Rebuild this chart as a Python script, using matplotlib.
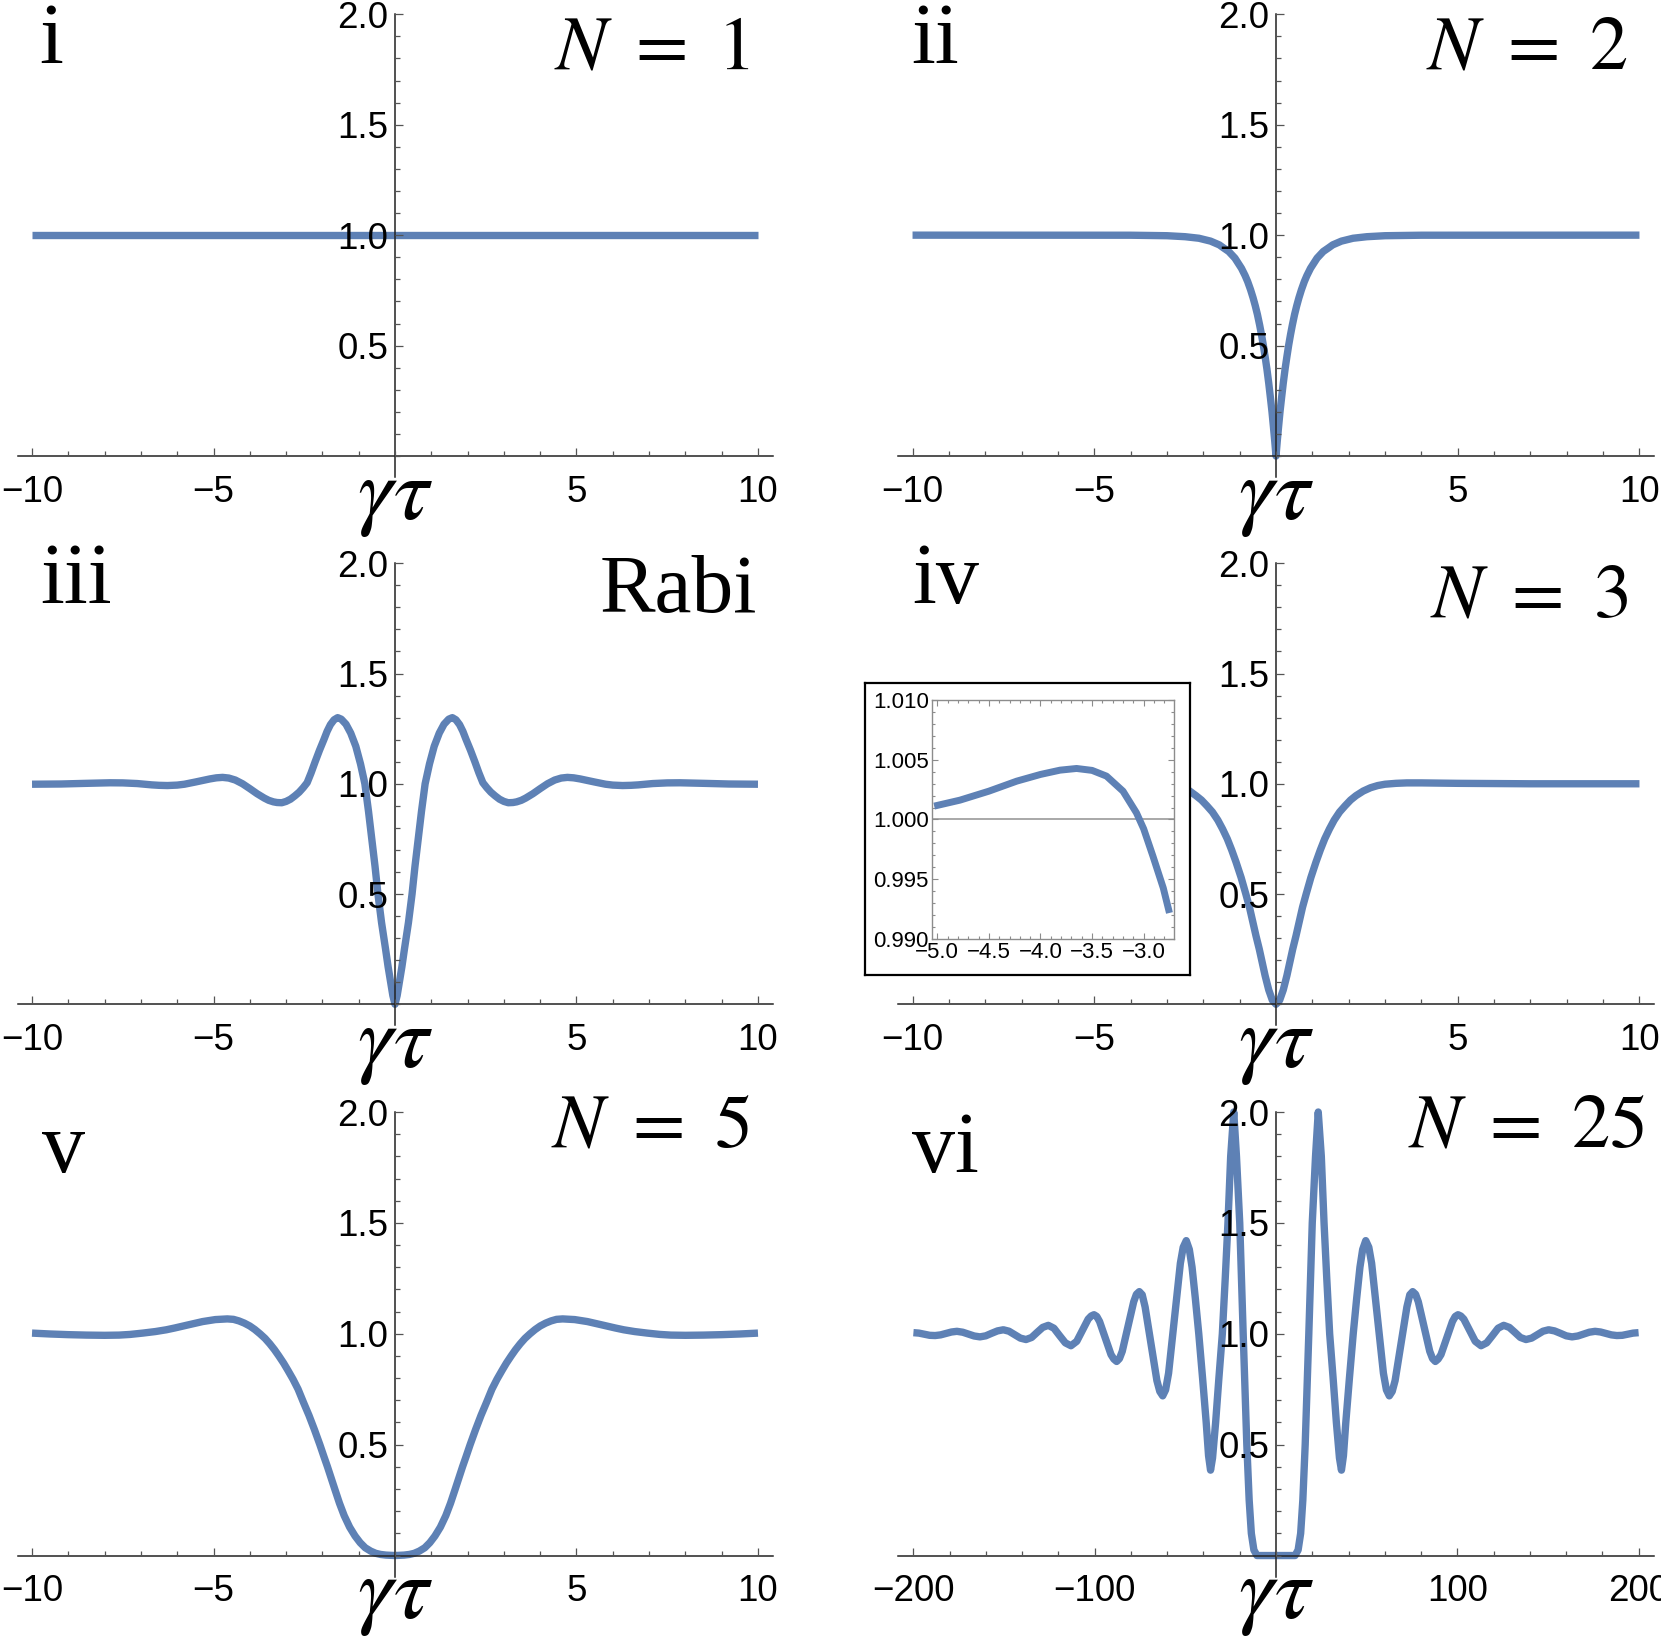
import numpy as np
import matplotlib
matplotlib.use("Agg")
import matplotlib.pyplot as plt
from matplotlib.ticker import MultipleLocator

W, H = 1661, 1636

# ---- values ----
# panel i, N = 1
x_n1 = [-10.0, 10.0]
y_n1 = [1.0, 1.0]

# panel ii, N = 2
x_n2 = [-10, -4, -3, -2.5, -2.12, -1.8, -1.56, -1.45, -1.3, -1.13, -0.95, -0.85, -0.78, -0.7, -0.63, -0.57, -0.51, -0.45, -0.4,
        -0.35, -0.3, -0.25, -0.2, -0.15, -0.11, -0.07, -0.035, 0,
        0.035, 0.07, 0.11, 0.15, 0.2, 0.25, 0.3, 0.35, 0.4, 0.45, 0.51, 0.57, 0.63, 0.7, 0.78, 0.85, 0.95, 1.13, 1.3, 1.45,
        1.56, 1.8, 2.12, 2.5, 3, 4, 10]
y_n2 = [1.0, 0.9997, 0.9975, 0.993, 0.986, 0.973, 0.956, 0.943, 0.926, 0.896, 0.85, 0.817, 0.79, 0.753, 0.716, 0.68, 0.64, 0.593, 0.55,
        0.503, 0.45, 0.394, 0.33, 0.259, 0.2, 0.131, 0.068, 0.0,
        0.068, 0.131, 0.2, 0.259, 0.33, 0.394, 0.45, 0.503, 0.55, 0.593, 0.64, 0.68, 0.716, 0.753, 0.79, 0.817, 0.85, 0.896, 0.926, 0.943,
        0.956, 0.973, 0.986, 0.993, 0.9975, 0.9997, 1.0]

# panel iii, Rabi
x_rabi = [-10.0, -9.2, -8.5, -7.85, -7.5, -7.1, -6.7, -6.5, -6.27, -6.0, -5.8, -5.5, -5.3, -5.1, -4.92, -4.75, -4.58, -4.4, -4.2,
          -4.0, -3.8, -3.6, -3.48, -3.35, -3.25, -3.12, -3.0, -2.88, -2.76, -2.64, -2.53, -2.42, -2.31, -2.2, -2.08, -1.96, -1.87,
          -1.78, -1.68, -1.58, -1.48, -1.35, -1.22, -1.08, -0.95, -0.83, -0.73, -0.64, -0.55, -0.47, -0.37, -0.26, -0.19, -0.12,
          -0.06, 0.0,
          0.06, 0.12, 0.19, 0.26, 0.37, 0.47, 0.55, 0.64, 0.73, 0.83, 0.95, 1.08, 1.22, 1.35, 1.48, 1.58, 1.68, 1.78,
          1.87, 1.96, 2.08, 2.2, 2.31, 2.42, 2.53, 2.64, 2.76, 2.88, 3.0, 3.12, 3.25, 3.35, 3.48, 3.6, 3.8, 4.0,
          4.2, 4.4, 4.58, 4.75, 4.92, 5.1, 5.3, 5.5, 5.8, 6.0, 6.27, 6.5, 6.7, 7.1, 7.5, 7.85, 8.5, 9.2, 10.0]
y_rabi = [0.998, 0.999, 1.002, 1.0045, 1.004, 1.001, 0.995, 0.993, 0.992, 0.994, 0.998, 1.008, 1.015, 1.022, 1.027, 1.029, 1.026, 1.017, 1.0,
          0.978, 0.955, 0.935, 0.925, 0.918, 0.915, 0.914, 0.92, 0.93, 0.945, 0.962, 0.982, 1.005, 1.05, 1.1, 1.152, 1.2, 1.238,
          1.268, 1.29, 1.30, 1.293, 1.27, 1.23, 1.17, 1.09, 1.0, 0.875, 0.75, 0.625, 0.5, 0.37, 0.25, 0.17, 0.1,
          0.04, 0.0,
          0.04, 0.1, 0.17, 0.25, 0.37, 0.5, 0.625, 0.75, 0.875, 1.0, 1.09, 1.17, 1.23, 1.27, 1.293, 1.30, 1.29, 1.268,
          1.238, 1.2, 1.152, 1.1, 1.05, 1.005, 0.982, 0.962, 0.945, 0.93, 0.92, 0.914, 0.915, 0.918, 0.925, 0.935, 0.955, 0.978,
          1.0, 1.017, 1.026, 1.029, 1.027, 1.022, 1.015, 1.008, 0.998, 0.994, 0.992, 0.993, 0.995, 1.001, 1.004, 1.0045, 1.002, 0.999, 0.998]

# panel iv, N = 3 (the inset shows the same curve)
x_n3 = [-10, -8, -6.5, -5.5, -5.03, -4.78, -4.5, -4.23, -4.0, -3.81, -3.65, -3.5, -3.36, -3.2, -3.07, -3.0, -2.91, -2.81, -2.75,
        -2.6, -2.4, -2.2, -2.05, -1.9, -1.75, -1.6, -1.47, -1.34, -1.22, -1.1, -0.96, -0.83, -0.73, -0.64, -0.55, -0.46, -0.38,
        -0.3, -0.2, -0.1, 0,
        0.1, 0.2, 0.3, 0.38, 0.46, 0.55, 0.64, 0.73, 0.83, 0.96, 1.1, 1.22, 1.34, 1.47, 1.6, 1.75, 1.9, 2.05, 2.2, 2.4,
        2.6, 2.8, 3.0, 3.3, 3.6, 4.0, 4.5, 5.0, 6.0, 7.0, 10]
y_n3 = [1.0, 1.0, 1.0003, 1.0007, 1.00112, 1.00162, 1.00237, 1.00321, 1.00377, 1.00413, 1.00427, 1.00411, 1.00363, 1.00237, 1.00056, 0.99922, 0.99693, 0.99427, 0.99218,
        0.985, 0.97, 0.946, 0.926, 0.9, 0.872, 0.835, 0.795, 0.75, 0.7, 0.645, 0.575, 0.5, 0.44, 0.375, 0.31, 0.25, 0.19,
        0.13, 0.065, 0.018, 0.0,
        0.018, 0.065, 0.13, 0.19, 0.25, 0.31, 0.375, 0.44, 0.5, 0.575, 0.645, 0.7, 0.75, 0.795, 0.835, 0.872, 0.9, 0.926, 0.946, 0.967,
        0.982, 0.992, 0.998, 1.002, 1.004, 1.004, 1.003, 1.002, 1.001, 1.0, 1.0]

# panel v, N = 5
x_n5 = [-10, -9.5, -9, -8.5, -8, -7.6, -7.3, -6.95, -6.6, -6.3, -6.07, -5.7, -5.3, -4.95, -4.62, -4.45, -4.3, -4.15, -4.0, -3.86,
        -3.72, -3.58, -3.45, -3.32, -3.2, -3.07, -2.95, -2.81, -2.67, -2.52, -2.37, -2.22, -2.07, -1.96, -1.86, -1.76, -1.66,
        -1.53, -1.4, -1.25, -1.1, -0.96, -0.82, -0.67, -0.53, -0.4, -0.25, 0,
        0.25, 0.4, 0.53, 0.67, 0.82, 0.96, 1.1, 1.25, 1.4, 1.53, 1.66, 1.76, 1.86, 1.96, 2.07, 2.22, 2.37, 2.52, 2.67,
        2.81, 2.95, 3.07, 3.2, 3.32, 3.45, 3.58, 3.72, 3.86, 4.0, 4.15, 4.3, 4.45, 4.62, 4.95, 5.3, 5.7, 6.07, 6.3, 6.6,
        6.95, 7.3, 7.6, 8, 8.5, 9, 9.5, 10]
y_n5 = [1.003, 0.999, 0.996, 0.994, 0.993, 0.994, 0.997, 1.003, 1.01, 1.018, 1.026, 1.04, 1.055, 1.064, 1.067, 1.065, 1.058, 1.048, 1.035, 1.019,
        1.0, 0.979, 0.955, 0.928, 0.9, 0.868, 0.835, 0.795, 0.75, 0.69, 0.632, 0.568, 0.5, 0.447, 0.4, 0.35, 0.3,
        0.236, 0.18, 0.128, 0.088, 0.058, 0.035, 0.02, 0.01, 0.005, 0.002, 0.0,
        0.002, 0.005, 0.01, 0.02, 0.035, 0.058, 0.088, 0.128, 0.18, 0.236, 0.3, 0.35, 0.4, 0.447, 0.5, 0.568, 0.632, 0.69, 0.75,
        0.795, 0.835, 0.868, 0.9, 0.928, 0.955, 0.979, 1.0, 1.019, 1.035, 1.048, 1.058, 1.065, 1.067, 1.064, 1.055, 1.04, 1.026, 1.018, 1.01,
        1.003, 0.997, 0.994, 0.993, 0.994, 0.996, 0.999, 1.003]

# panel vi, N = 25
x_n25 = [-200, -197, -194, -191, -188, -185, -182, -179, -176, -172.8, -169.6, -166.5, -163.3, -160.1, -156.9, -153.6,
         -150.4, -147.3, -144.2, -141.0, -137.9, -134.8, -131.8, -128.7, -125.6,
         -122.5, -119.4, -116.2, -113.1, -109.9, -106.75, -103.6, -101.95, -100.4, -98.85, -97.3, -94.15, -91.0, -89.45, -87.9,
         -86.35, -84.8, -81.65, -78.5, -77.0, -75.4, -73.8, -72.2, -68.95, -65.7, -64.1, -62.5, -60.9, -59.25, -56.0, -52.75,
         -51.2, -49.5, -47.8, -46.3, -44.5, -42.6, -40.5, -38.5, -37.2, -36.1, -35.0, -33.3, -31.5, -29.6, -28.0, -26.5,
         -25.0, -23.3, -21.8, -20.0, -18.1, -16.1, -14.8, -13.6, -12.2, -10.5,
         10.5, 12.2, 13.6, 14.8, 16.1, 18.1, 20.0, 21.8, 23.3, 25.0, 26.5, 28.0, 29.6, 31.5, 33.3, 35.0, 36.1, 37.2, 38.5,
         40.5, 42.6, 44.5, 46.3, 47.8, 49.5, 51.2, 52.75, 56.0, 59.25, 60.9, 62.5, 64.1, 65.7, 68.95, 72.2, 73.8, 75.4, 77.0,
         78.5, 81.65, 84.8, 86.35, 87.9, 89.45, 91.0, 94.15, 97.3, 98.85, 100.4, 101.95, 103.6, 106.75, 109.9, 113.1, 116.2,
         119.4, 122.5, 125.6, 128.7, 131.8, 134.8, 137.9, 141.0, 144.2, 147.3, 150.4, 153.6, 156.9, 160.1, 163.3, 166.5,
         169.6, 172.8, 176, 179, 182, 185, 188, 191, 194, 197, 200]
y_n25 = [1.005, 1.003, 0.998, 0.993, 0.992, 0.995, 1.0015, 1.008, 1.011, 1.007, 0.9985, 0.990, 0.986, 0.9907, 1.002, 1.013,
         1.018, 1.0116, 0.996, 0.9804, 0.974, 0.9833, 1.006, 1.0287, 1.038,
         1.025, 0.992, 0.959, 0.946, 0.966, 1.016, 1.066, 1.08, 1.086, 1.078, 1.055, 0.98, 0.906, 0.886, 0.875,
         0.888, 0.921, 1.032, 1.144, 1.178, 1.19, 1.176, 1.121, 0.955, 0.789, 0.74, 0.72, 0.747, 0.822, 1.07, 1.318,
         1.39, 1.42, 1.38, 1.3, 1.16, 1.0, 0.8, 0.6, 0.45, 0.385, 0.44, 0.6, 0.8, 1.0, 1.25, 1.5,
         1.8, 2.0, 1.8, 1.5, 1.0, 0.5, 0.25, 0.1, 0.025, 0.0,
         0.0, 0.025, 0.1, 0.25, 0.5, 1.0, 1.5, 1.8, 2.0, 1.8, 1.5, 1.25, 1.0, 0.8, 0.6, 0.44, 0.385, 0.45, 0.6,
         0.8, 1.0, 1.16, 1.3, 1.38, 1.42, 1.39, 1.318, 1.07, 0.822, 0.747, 0.72, 0.74, 0.789, 0.955, 1.121, 1.176, 1.19, 1.178,
         1.144, 1.032, 0.921, 0.888, 0.875, 0.886, 0.906, 0.98, 1.055, 1.078, 1.086, 1.08, 1.066, 1.016, 0.966, 0.946, 0.959,
         0.992, 1.025, 1.038, 1.0287, 1.006, 0.9833, 0.974, 0.9804, 0.996, 1.0116, 1.018, 1.013, 1.002, 0.9907, 0.986, 0.990,
         0.9985, 1.007, 1.011, 1.008, 1.0015, 0.995, 0.992, 0.993, 0.998, 1.003, 1.005]

panel_tags = ["i", "ii", "iii", "iv", "v", "vi"]
panel_titles = [r"$N\,\,=\,\,1$", r"$N\,\,=\,\,2$", "Rabi", r"$N\,\,=\,\,3$", r"$N\,\,=\,\,5$", r"$N\,\,=\,\,25$"]

blue = "#5E81B5"
plt.rcParams["mathtext.fontset"] = "stix"
plt.rcParams["font.family"] = ["Liberation Sans", "DejaVu Sans"]

fig = plt.figure(figsize=(W / 100, H / 100), dpi=100)


def add_px_axes(left, right, top, bottom):
    return fig.add_axes([left / W, 1 - bottom / H, (right - left) / W, (bottom - top) / H])


def label(s):
    return ("%g" % s).replace("-", "\u2212")


def make_panel(left, right, top, bottom, xmax, xmajor, xminor):
    ax = add_px_axes(left, right, top, bottom)
    ax.set_xlim(-xmax, xmax)
    ax.set_ylim(-0.095, 2.0)
    ax.patch.set_alpha(0)
    ax.set_axisbelow(False)
    for s in ["top", "right"]:
        ax.spines[s].set_visible(False)
    ax.spines["left"].set_position(("data", 0))
    ax.spines["bottom"].set_position(("data", 0))
    for s in ["left", "bottom"]:
        ax.spines[s].set_linewidth(1.1)
        ax.spines[s].set_color("#222222")
    ax.set_xticks(xmajor)
    ax.set_xticklabels([label(v) for v in xmajor])
    ax.xaxis.set_minor_locator(MultipleLocator(xminor))
    ax.set_yticks([0.5, 1.0, 1.5, 2.0])
    ax.set_yticklabels(["0.5", "1.0", "1.5", "2.0"])
    ax.yaxis.set_minor_locator(MultipleLocator(0.1))
    ax.tick_params(which="both", direction="in", color="#555555", width=0.9)
    ax.tick_params(which="major", length=6, labelsize=26.5)
    ax.tick_params(which="minor", length=3.5)
    ax.tick_params(axis="x", which="major", pad=13.5)
    ax.tick_params(axis="y", which="major", pad=5)
    return ax


def fig_text(px, py, s, **kw):
    fig.text(px / W, 1 - py / H, s, **kw)


cols = [(17.5, 772.5, 395), (898, 1654, 1276)]
rows = [(14.3, 477), (563.3, 1025.2), (1112, 1576.6)]
row_axis = [456, 1004.3, 1555.5]

curves = [(x_n1, y_n1), (x_n2, y_n2), (x_rabi, y_rabi), (x_n3, y_n3), (x_n5, y_n5), (x_n25, y_n25)]

for k, (xs, ys) in enumerate(curves):
    r, c = divmod(k, 2)
    left, right, _ = cols[c]
    top, bottom = rows[r]
    if k == 5:
        ax = make_panel(left, right, top, bottom, 208.5, [-200, -100, 100, 200], 20)
    else:
        ax = make_panel(left, right, top, bottom, 10.4, [-10, -5, 5, 10], 1)
    ax.plot(xs, ys, color=blue, lw=5.3, solid_capstyle="butt", solid_joinstyle="round",
            clip_on=False, zorder=2)

# panel tags (i ... vi)
tag_pos = [(39, 63), (911.5, 63), (40, 603), (912.5, 603), (42.5, 1172), (911.5, 1172)]
for (px, py), t in zip(tag_pos, panel_tags):
    fig_text(px, py, t, fontfamily="Liberation Serif", fontsize=62, ha="left", va="baseline")

# right-hand titles
title_pos = [(750, 68), (1628, 68), (757.5, 612), (1628, 617), (750, 1146), (1645.6, 1146.7)]
for (px, py), t in zip(title_pos, panel_titles):
    if t == "Rabi":
        fig_text(px, py, t, fontfamily="Liberation Serif", fontsize=60, ha="right", va="baseline")
    else:
        fig_text(px, py, t, fontsize=55, ha="right", va="baseline")

# axis labels
for r in range(3):
    for c in range(2):
        fig_text(cols[c][2], row_axis[r] + 63, r"$\gamma\tau$", fontsize=64, ha="center", va="baseline")

# inset in panel iv
box = add_px_axes(865, 1190, 683, 975)
box.set_xticks([])
box.set_yticks([])
box.set_facecolor("white")
for s in box.spines.values():
    s.set_linewidth(1.6)
    s.set_color("black")
box.set_zorder(5)

ins = add_px_axes(931.7, 1174, 700, 939)
ins.set_zorder(6)
ins.set_facecolor("white")
ins.set_xlim(-5.054, -2.706)
ins.set_ylim(0.990, 1.010)
x_in = np.array(x_n3)
y_in = np.array(y_n3)
keep = (x_in >= -5.06) & (x_in <= -2.75)
ins.axhline(1.0, color="#9a9a9a", lw=1.2, zorder=1)
ins.plot(x_in[keep], y_in[keep], color=blue, lw=5.0, solid_capstyle="butt", solid_joinstyle="round", zorder=2)
for s in ins.spines.values():
    s.set_color("#8c8c8c")
    s.set_linewidth(1.0)
ins_xt = [-5.0, -4.5, -4.0, -3.5, -3.0]
ins_yt = [0.990, 0.995, 1.000, 1.005, 1.010]
ins.set_xticks(ins_xt)
ins.set_xticklabels([("%.1f" % v).replace("-", "\u2212") for v in ins_xt])
ins.set_yticks(ins_yt)
ins.set_yticklabels(["%.3f" % v for v in ins_yt])
ins.xaxis.set_minor_locator(MultipleLocator(0.1))
ins.yaxis.set_minor_locator(MultipleLocator(0.001))
ins.tick_params(which="both", direction="in", top=True, right=True, color="#8c8c8c", width=0.8)
ins.tick_params(which="major", length=4, labelsize=16, pad=2)
ins.tick_params(which="minor", length=2.2)

fig.savefig("out.png", dpi=100)
